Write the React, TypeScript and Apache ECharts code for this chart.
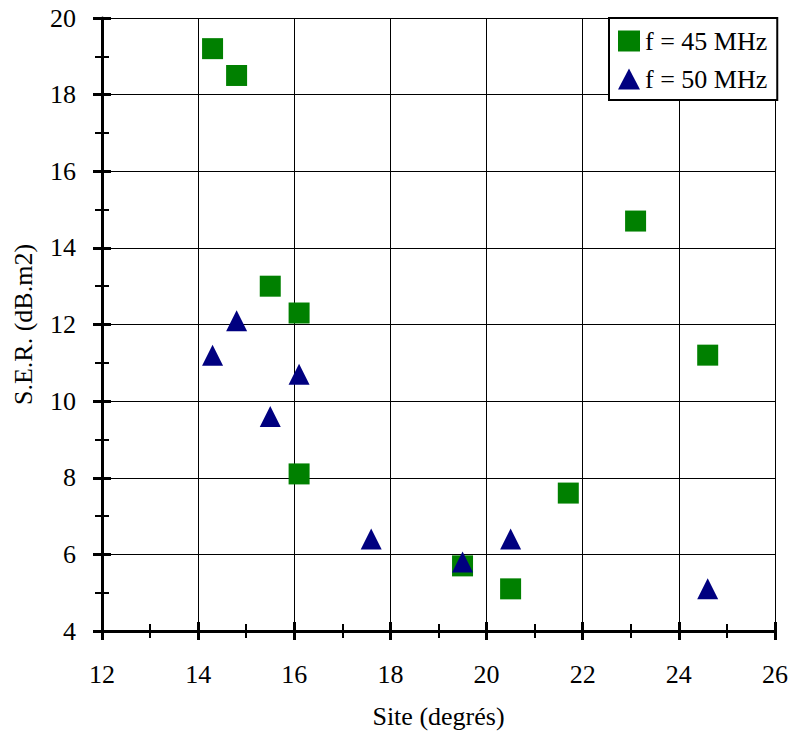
import React, { useEffect, useRef } from "react";
import * as echarts from "echarts";

const siteTicks = [12, 14, 16, 18, 20, 22, 24, 26];
const serTicks = [4, 6, 8, 10, 12, 14, 16, 18, 20];

const series45Name = "f = 45 MHz";
const site45 = [14.3, 14.8, 15.5, 16.1, 16.1, 19.5, 20.5, 21.7, 23.1, 24.6];
const ser45 = [19.2, 18.5, 13.0, 12.3, 8.1, 5.7, 5.1, 7.6, 14.7, 11.2];

const series50Name = "f = 50 MHz";
const site50 = [14.3, 14.8, 15.5, 16.1, 17.6, 19.5, 20.5, 24.6];
const ser50 = [11.2, 12.1, 9.6, 10.7, 6.4, 5.8, 6.4, 5.1];

const FONT = "'Liberation Serif', 'Times New Roman', serif";

export default function App() {
  const ref = useRef<HTMLDivElement>(null);
  useEffect(() => {
    document.body.style.margin = "0";
    if (!ref.current) return;
    const chart = echarts.init(ref.current, null, { renderer: "svg" });
    const xMin = siteTicks[0];
    const xMax = siteTicks[siteTicks.length - 1];
    const yMin = serTicks[0];
    const yMax = serTicks[serTicks.length - 1];
    const interval = 2;
    const labelStyle = { fontSize: 26, fontFamily: FONT, color: "#000" };

    const xBase = {
      type: "value" as const,
      min: xMin,
      max: xMax,
      interval,
    };
    const yBase = {
      type: "value" as const,
      min: yMin,
      max: yMax,
      interval,
    };

    chart.setOption({
      animation: false,
      textStyle: { fontFamily: FONT },
      grid: { left: 102, right: 16, top: 18, bottom: 105, containLabel: false },
      xAxis: [
        {
          ...xBase,
          position: "bottom",
          name: "Site (degrés)",
          nameLocation: "middle",
          nameGap: 72,
          nameTextStyle: { ...labelStyle },
          axisLine: { show: true, lineStyle: { color: "#000", width: 3 } },
          axisTick: { show: true, inside: false, length: 9, lineStyle: { color: "#000", width: 3 } },
          minorTick: { show: true, splitNumber: 2, length: 7, lineStyle: { color: "#000", width: 2 } },
          splitLine: { show: true, lineStyle: { color: "#000", width: 1 } },
          axisLabel: { ...labelStyle, margin: 30 },
        },
        {
          ...xBase,
          position: "bottom",
          axisLine: { show: false },
          axisTick: { show: true, inside: true, length: 9, lineStyle: { color: "#000", width: 3 } },
          minorTick: { show: true, splitNumber: 2, length: 7, lineStyle: { color: "#000", width: 2 } },
          splitLine: { show: false },
          axisLabel: { show: false },
        },
      ],
      yAxis: [
        {
          ...yBase,
          position: "left",
          name: "S.E.R. (dB.m2)",
          nameLocation: "middle",
          nameGap: 66,
          nameTextStyle: { ...labelStyle },
          axisLine: { show: true, lineStyle: { color: "#000", width: 3 } },
          axisTick: { show: true, inside: false, length: 9, lineStyle: { color: "#000", width: 3 } },
          minorTick: { show: true, splitNumber: 2, length: 7, lineStyle: { color: "#000", width: 2 } },
          splitLine: { show: true, lineStyle: { color: "#000", width: 1 } },
          axisLabel: { ...labelStyle, margin: 26 },
        },
        {
          ...yBase,
          position: "left",
          axisLine: { show: false },
          axisTick: { show: true, inside: true, length: 9, lineStyle: { color: "#000", width: 3 } },
          minorTick: { show: true, splitNumber: 2, length: 7, lineStyle: { color: "#000", width: 2 } },
          splitLine: { show: false },
          axisLabel: { show: false },
        },
      ],
      legend: {
        left: 609,
        top: 18,
        orient: "vertical",
        backgroundColor: "#fff",
        borderColor: "#000",
        borderWidth: 2,
        borderRadius: 0,
        padding: [10, 10, 8, 9],
        itemWidth: 22,
        itemHeight: 21,
        itemGap: 12,
        textStyle: { ...labelStyle },
        data: [
          { name: series45Name, icon: "rect" },
          { name: series50Name, icon: "triangle" },
        ],
      },
      series: [
        {
          name: series45Name,
          type: "scatter",
          xAxisIndex: 0,
          yAxisIndex: 0,
          symbol: "rect",
          symbolSize: 21,
          itemStyle: { color: "#008000", opacity: 1 },
          data: site45.map((x, i) => [x, ser45[i]]),
        },
        {
          name: series50Name,
          type: "scatter",
          xAxisIndex: 0,
          yAxisIndex: 0,
          symbol: "triangle",
          symbolSize: 21,
          itemStyle: { color: "#000080", opacity: 1 },
          data: site50.map((x, i) => [x, ser50[i]]),
        },
      ],
    });
    return () => chart.dispose();
  }, []);
  return <div ref={ref} style={{ width: 791, height: 736 }} />;
}
